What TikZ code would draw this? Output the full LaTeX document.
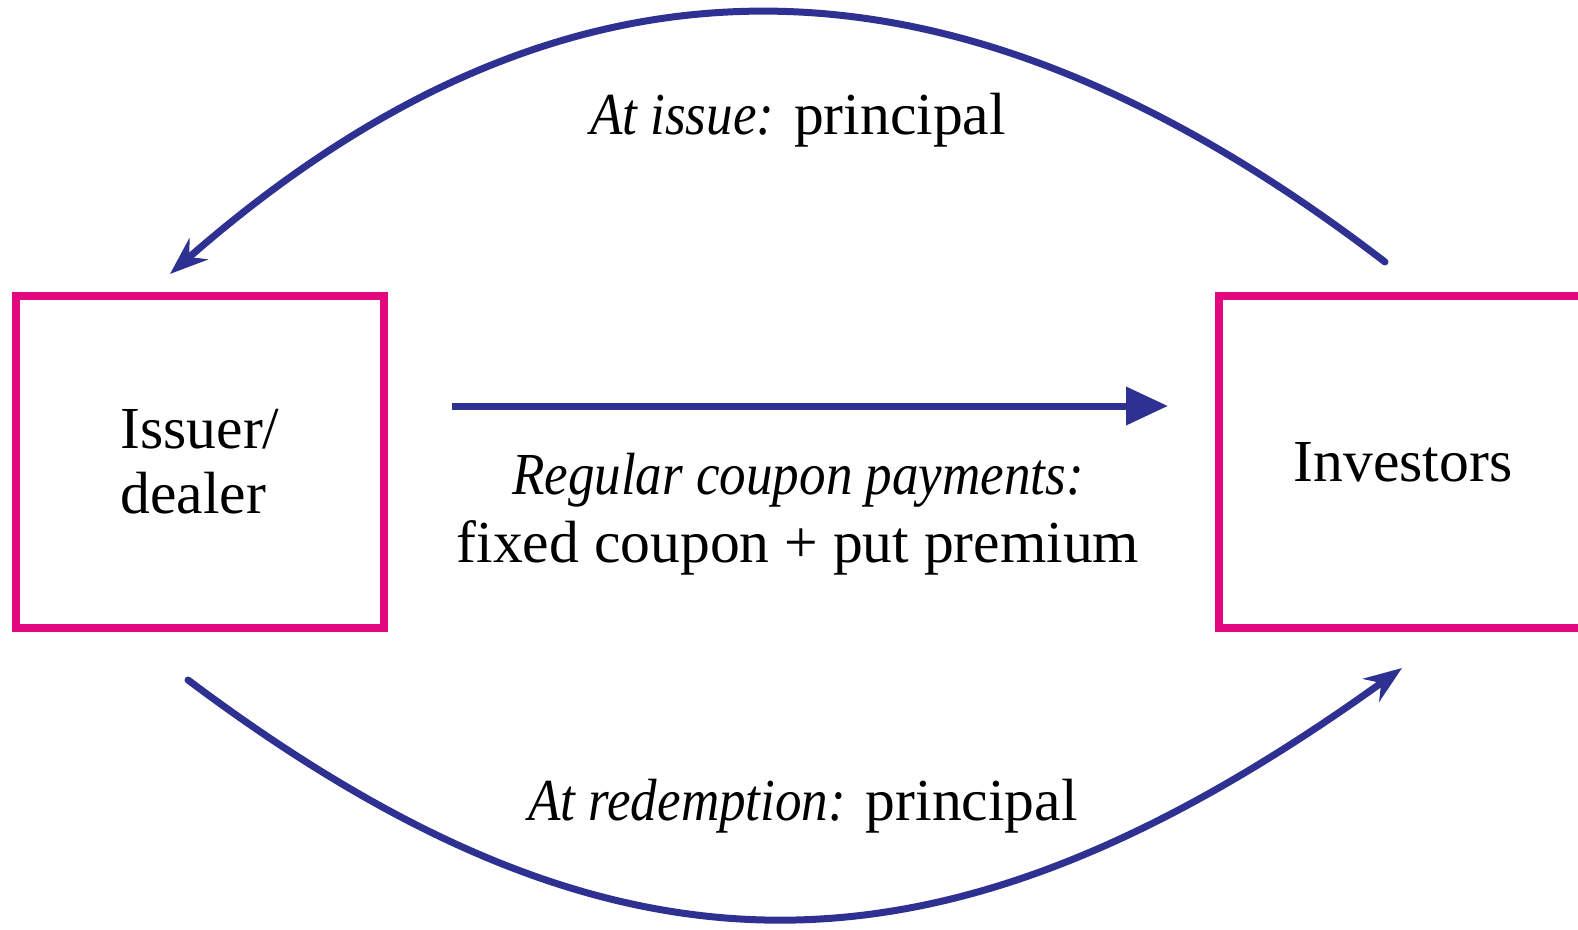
\documentclass[tikz,border=0pt]{standalone}
\usepackage{fontspec}
\setmainfont{Liberation Serif}[ItalicFeatures={FakeStretch=0.89}]
\usetikzlibrary{arrows.meta}
\definecolor{flowblue}{RGB}{46,49,146}
\definecolor{boxpink}{RGB}{226,8,128}
\begin{document}
\begin{tikzpicture}[x=0.5pt,y=-0.5pt,
  partybox/.style={draw=boxpink,line width=4pt,minimum width=184pt,minimum height=166pt,inner sep=0pt,font=\fontsize{29.8}{32.5}\selectfont},
  lbl/.style={font=\fontsize{29.8}{34.2}\selectfont,inner sep=0pt,align=center},
  flow/.style={draw=flowblue,line width=3.5pt},
  arcflow/.style={flow,line cap=round,-{Stealth[length=19pt,width=14pt]}},
  straightflow/.style={flow,-{Triangle[length=21pt,width=18.5pt]}}]
\useasboundingbox (0,0) rectangle (1578,930);
\clip (0,0) rectangle (1578,930);
\node[partybox,align=left] (issuer) at (200,462) {Issuer/\\dealer};
\node[partybox] (investors) at (1403,462) {Investors};
\coordinate (topTail) at (1385,262);
\coordinate (topTip) at (170,274);
\coordinate (botTail) at (188,680);
\coordinate (botTip) at (1402,668);
\coordinate (midStart) at (452,406);
\coordinate (midEnd) at (1168,406);
\draw[arcflow] (topTail) .. controls (950,-72) and (565,-72) .. (topTip);
\draw[arcflow] (botTail) .. controls (615,1000) and (940,1000) .. (botTip);
\draw[straightflow] (midStart) -- (midEnd);
\node[lbl,anchor=base] (issueLbl) at (798,135) {{\itshape At issue:} principal};
\node[lbl,anchor=base] (redLbl) at (803,820) {{\itshape At redemption:} principal};
\node[lbl] (couponLbl) at (798,514) {{\itshape Regular coupon payments:}\\fixed coupon + put premium};
\end{tikzpicture}
\end{document}
